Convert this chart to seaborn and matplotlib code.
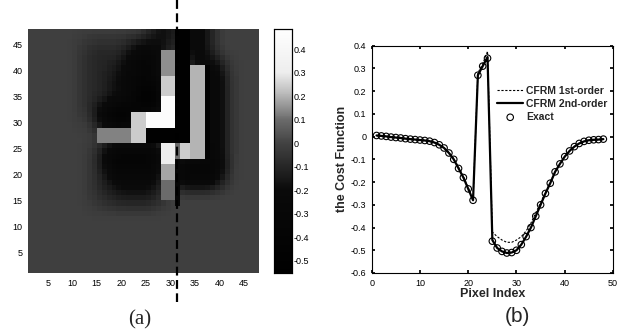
import numpy as np
import matplotlib
matplotlib.use("Agg")
import matplotlib.pyplot as plt
from matplotlib.colors import LinearSegmentedColormap
import seaborn as sns

sns.set_theme(style="white")
plt.rcParams['font.family'] = ['Liberation Sans', 'DejaVu Sans']
plt.rcParams['font.serif'] = ['Liberation Serif', 'DejaVu Serif']

# ---------------- data: panel (a) ----------------
grid_n = 48
background = -0.01
# soft dark halos (x0, x1, y0, y1 inclusive, value) - smoothed afterwards
halo_x0 = [12, 14, 37, 22, 16, 23, 18, 17, 18, 37, 40, 31, 33, 26]
halo_x1 = [27, 27, 41, 27, 22, 27, 21, 27, 27, 38, 40, 39, 37, 30]
halo_y0 = [30, 14, 19, 37, 29, 32, 33, 20, 15, 22, 23, 18, 41, 44]
halo_y1 = [45, 25, 41, 44, 32, 36, 40, 25, 19, 41, 39, 22, 48, 48]
halo_val = [-0.1, -0.1, -0.1, -0.35, -0.5, -0.55, -0.22, -0.4, -0.2, -0.5, -0.2, -0.4, -0.25, -0.2]
# sharp features painted on top
feat_x0 = [15, 22, 25, 25, 28, 28, 28, 31, 34, 32, 31, 28, 28, 28, 31, 37]
feat_x1 = [21, 24, 30, 33, 30, 30, 30, 33, 36, 33, 31, 30, 30, 30, 31, 37]
feat_y0 = [26, 26, 29, 26, 39, 35, 32, 26, 23, 23, 23, 22, 19, 15, 14, 23]
feat_y1 = [28, 31, 31, 28, 43, 38, 34, 47, 40, 25, 25, 25, 21, 18, 22, 40]
feat_val = [0.13, 0.24, 0.45, -0.52, 0.15, 0.24, 0.45, -0.52, 0.2, 0.24, 0.1, 0.3, 0.18, 0.1, -0.3, -0.5]

cbar_ticks = [-0.5, -0.4, -0.3, -0.2, -0.1, 0.0, 0.1, 0.2, 0.3, 0.4]
cbar_labels = ['-0.5', '-0.4', '-0.3', '-0.2', '-0.1', '0', '0.1', '0.2', '0.3', '0.4']
img_ticks = [5, 10, 15, 20, 25, 30, 35, 40, 45]
vmin, vmax = -0.554, 0.488

# ---------------- data: panel (b) ----------------
pixel = list(range(1, 49))
exact = [0.005, 0.003, 0.001, -0.002, -0.004, -0.006, -0.009, -0.011, -0.013, -0.015,
         -0.017, -0.02, -0.026, -0.036, -0.05, -0.072, -0.1, -0.14, -0.18, -0.23,
         -0.28, 0.27, 0.31, 0.345, -0.46, -0.49, -0.505, -0.512, -0.51, -0.5,
         -0.475, -0.44, -0.4, -0.35, -0.3, -0.25, -0.205, -0.155, -0.12, -0.088,
         -0.063, -0.044, -0.03, -0.021, -0.016, -0.014, -0.013, -0.011]
first_order = [0.005, 0.003, 0.001, -0.002, -0.004, -0.006, -0.009, -0.011, -0.013, -0.015,
               -0.017, -0.02, -0.026, -0.036, -0.05, -0.07, -0.097, -0.135, -0.175, -0.225,
               -0.275, 0.28, 0.32, 0.375, -0.42, -0.44, -0.455, -0.465, -0.465, -0.455,
               -0.44, -0.415, -0.38, -0.335, -0.29, -0.245, -0.2, -0.155, -0.12, -0.088,
               -0.063, -0.044, -0.03, -0.021, -0.016, -0.014, -0.013, -0.011]
second_order = [0.005, 0.003, 0.001, -0.002, -0.004, -0.006, -0.009, -0.011, -0.013, -0.015,
                -0.017, -0.02, -0.026, -0.036, -0.05, -0.072, -0.1, -0.14, -0.18, -0.23,
                -0.28, 0.27, 0.31, 0.35, -0.455, -0.49, -0.505, -0.512, -0.51, -0.5,
                -0.475, -0.44, -0.4, -0.35, -0.3, -0.25, -0.205, -0.155, -0.12, -0.088,
                -0.063, -0.044, -0.03, -0.021, -0.016, -0.014, -0.013, -0.011]
y_ticks_b = [-0.6, -0.5, -0.4, -0.3, -0.2, -0.1, 0.0, 0.1, 0.2, 0.3, 0.4]
y_labels_b = ['-0.6', '-0.5', '-0.4', '-0.3', '-0.2', '-0.1', '0', '0.1', '0.2', '0.3', '0.4']
x_ticks_b = [0, 10, 20, 30, 40, 50]

# ---------------- build grid ----------------
Z = np.full((grid_n, grid_n), background)
for x0, x1, y0, y1, v in zip(halo_x0, halo_x1, halo_y0, halo_y1, halo_val):
    Z[y0 - 1:y1, x0 - 1:x1] = v


def box_smooth(a, r=1):
    p = np.pad(a, r, mode='edge')
    out = np.zeros_like(a)
    k = 2 * r + 1
    for dy in range(k):
        for dx in range(k):
            out += p[dy:dy + a.shape[0], dx:dx + a.shape[1]]
    return out / (k * k)


Z = box_smooth(box_smooth(Z, 2), 1)
for x0, x1, y0, y1, v in zip(feat_x0, feat_x1, feat_y0, feat_y1, feat_val):
    Z[y0 - 1:y1, x0 - 1:x1] = v
Zc = Z[:grid_n - 1, :grid_n - 1]  # pcolor-style cells


def nrm(v):
    return (v - vmin) / (vmax - vmin)


cmap = LinearSegmentedColormap.from_list(
    "scan_gray",
    [(0.0, (0.0, 0.0, 0.0)),
     (nrm(-0.2), (0.04, 0.04, 0.04)),
     (nrm(0.0), (0.26, 0.26, 0.26)),
     (nrm(0.1), (0.42, 0.42, 0.42)),
     (nrm(0.2), (0.70, 0.70, 0.70)),
     (nrm(0.3), (0.93, 0.93, 0.93)),
     (1.0, (1.0, 1.0, 1.0))])

W, H = 634, 332
fig = plt.figure(figsize=(W / 100, H / 100), dpi=100)


def fax(l, r, t, b):
    return fig.add_axes([l / W, (H - b) / H, (r - l) / W, (b - t) / H])


ax_h = fax(28, 259, 29, 273)
cax = fax(274, 291.5, 28.5, 273.3)
ax_b = fax(371.7, 613, 45.7, 273)

sns.heatmap(Zc, ax=ax_h, cmap=cmap, vmin=vmin, vmax=vmax, cbar_ax=cax,
            xticklabels=False, yticklabels=False)
ax_h.set_ylim(0, grid_n - 1)
ax_h.set_xlim(0, grid_n - 1)
ax_h.set_xticks([t - 1 for t in img_ticks])
ax_h.set_xticklabels([str(t) for t in img_ticks])
ax_h.set_yticks([t - 1 for t in img_ticks])
ax_h.set_yticklabels([str(t) for t in img_ticks], rotation=0)
ax_h.tick_params(direction='in', length=2, labelsize=6.5, pad=4, colors='black')

cax.set_yticks(cbar_ticks)
cax.set_yticklabels(cbar_labels)
cax.tick_params(direction='in', length=2.5, labelsize=6.5, pad=1.5, colors='black')
for s in cax.spines.values():
    s.set_visible(True)
    s.set_color('black')
    s.set_linewidth(0.8)

# dashed cut line
xcut = 31.4 - 1
ax_h.plot([xcut, xcut], [52.6, -5.6], color='black', lw=1.6, ls=(0, (4, 2)),
          clip_on=False, zorder=5)

# ---------------- panel (b) ----------------
sns.lineplot(x=pixel, y=first_order, ax=ax_b, color='black', lw=0.8,
             linestyle=(0, (2, 1.5)), label='CFRM 1st-order')
sns.lineplot(x=pixel, y=second_order, ax=ax_b, color='black', lw=1.6,
             label='CFRM 2nd-order')
sns.scatterplot(x=pixel, y=exact, ax=ax_b, marker='o', s=22, facecolor='none',
                edgecolor='black', linewidth=0.8, label='Exact', zorder=4)
ax_b.set_xlim(0, 50)
ax_b.set_ylim(-0.6, 0.4)
ax_b.set_xticks(x_ticks_b)
ax_b.set_xticklabels([str(t) for t in x_ticks_b])
ax_b.set_yticks(y_ticks_b)
ax_b.set_yticklabels(y_labels_b)
ax_b.tick_params(direction='in', length=2.5, labelsize=6.5, pad=4, colors='black',
                 top=True, right=True, bottom=True, left=True)
for s in ax_b.spines.values():
    s.set_visible(True)
    s.set_color('black')
    s.set_linewidth(0.8)
ax_b.set_xlabel('Pixel Index', fontsize=9, fontweight='bold')
ax_b.set_ylabel('the Cost Function', fontsize=9, fontweight='bold')
ax_b.xaxis.set_label_coords(0.5, -0.068)
ax_b.yaxis.set_label_coords(-0.1, 0.5)
leg = ax_b.legend(loc='center left', bbox_to_anchor=(0.52, 0.744), frameon=False,
                  prop={'size': 7.5, 'weight': 'bold'}, handlelength=2.5,
                  handletextpad=0.3, labelspacing=0.3, borderpad=0, borderaxespad=0)

fig.text(140 / W, 1 - 320 / H, '(a)', family=['Liberation Serif', 'DejaVu Serif'],
         fontsize=15, ha='center', va='center')
fig.text(517 / W, 1 - 316 / H, '(b)', family=['Liberation Sans', 'DejaVu Sans'],
         fontsize=15, ha='center', va='center')

fig.savefig('out.png', dpi=100)
